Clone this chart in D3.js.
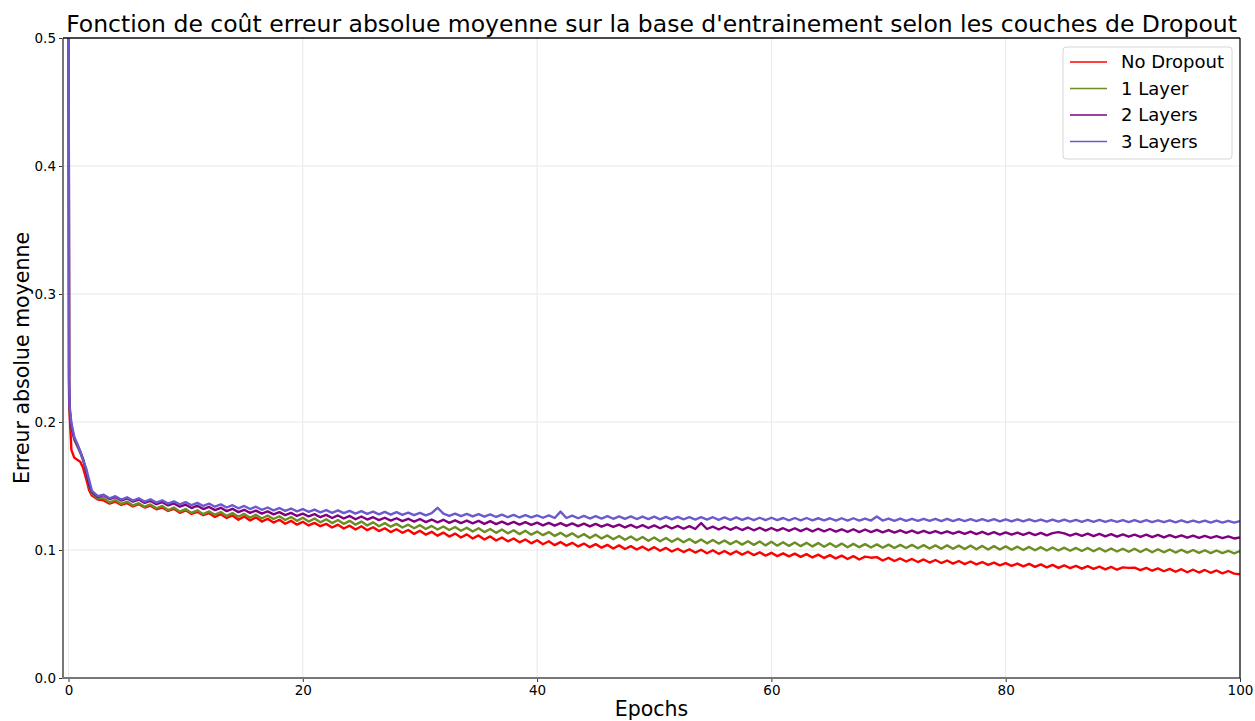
<!DOCTYPE html>
<html>
<head>
<meta charset="utf-8">
<script src="https://cdn.jsdelivr.net/npm/d3@7"></script>
<style>
  html, body { margin: 0; padding: 0; background: #fff; }
  svg { display: block; font-family: 'DejaVu Sans', sans-serif; }
</style>
</head>
<body>
<div id="app"></div>
<script>
const width = 1255;
const height = 721;

// epochs: dense sampling at the start, then every half epoch
const earlyEpochs = [0, 0.05, 0.1, 0.25, 0.5, 0.75, 1.0, 1.25, 1.5, 1.75];
const epochs = earlyEpochs.concat(d3.range(2, 100.001, 0.5));

const seriesNames = ['No Dropout', '1 Layer', '2 Layers', '3 Layers'];
const seriesColors = ['#ff0000', '#6b8e23', '#800080', '#6a5acd'];

const xTicks = [0, 20, 40, 60, 80, 100];
const yTicks = [0.0, 0.1, 0.2, 0.3, 0.4, 0.5];

// values, x 1e-4
const noDropout = [
  6200, 2200, 2050, 1780, 1720, 1705, 1690, 1640, 1560, 1470,
  1425, 1395, 1388, 1362, 1378, 1352, 1366, 1340, 1358, 1332,
  1346, 1318, 1332, 1305, 1322, 1290, 1310, 1282, 1298, 1272,
  1288, 1258, 1280, 1250, 1270, 1236, 1262, 1230, 1255, 1222,
  1244, 1214, 1236, 1205, 1228, 1198, 1220, 1192, 1212, 1186,
  1204, 1176, 1198, 1168, 1190, 1160, 1185, 1155, 1178, 1148,
  1170, 1140, 1162, 1134, 1156, 1126, 1150, 1120, 1142, 1112,
  1136, 1105, 1128, 1098, 1122, 1090, 1114, 1082, 1106, 1074,
  1098, 1068, 1090, 1060, 1082, 1052, 1076, 1045, 1068, 1038,
  1062, 1034, 1056, 1028, 1050, 1022, 1046, 1018, 1040, 1012,
  1036, 1008, 1030, 1004, 1026,  998, 1022,  994, 1016,  988,
  1010,  984, 1006,  980, 1002,  975,  998,  970,  992,  966,
   990,  964,  986,  960,  982,  956,  978,  952,  974,  950,
   972,  946,  968,  942,  964,  938,  960,  934,  956,  930,
   952,  926,  948,  940,  944,  918,  938,  914,  934,  910,
   930,  906,  926,  902,  922,  898,  918,  894,  914,  890,
   910,  888,  906,  884,  902,  880,  898,  876,  894,  872,
   892,  868,  888,  864,  884,  860,  880,  858,  876,  854,
   874,  852,  870,  848,  868,  846,  864,  860,  862,  842,
   860,  838,  856,  834,  852,  830,  850,  826,  846,  824,
   844,  822,  840,  818,  836,  815,  810
];

const oneLayer = [
  6200, 2250, 2080, 1950, 1860, 1810, 1760, 1700, 1610, 1500,
  1440, 1402, 1405, 1372, 1390, 1360, 1378, 1348, 1366, 1338,
  1356, 1326, 1344, 1312, 1332, 1300, 1320, 1290, 1310, 1280,
  1302, 1276, 1296, 1266, 1288, 1260, 1282, 1252, 1276, 1246,
  1270, 1242, 1264, 1234, 1258, 1228, 1252, 1222, 1246, 1216,
  1240, 1210, 1234, 1204, 1228, 1198, 1222, 1192, 1216, 1186,
  1210, 1182, 1204, 1176, 1198, 1170, 1194, 1164, 1188, 1160,
  1184, 1156, 1180, 1150, 1174, 1144, 1170, 1140, 1164, 1134,
  1160, 1130, 1154, 1124, 1150, 1120, 1144, 1116, 1140, 1110,
  1134, 1106, 1130, 1100, 1124, 1094, 1120, 1090, 1114, 1084,
  1110, 1080, 1106, 1076, 1102, 1072, 1098, 1068, 1094, 1064,
  1090, 1060, 1086, 1056, 1082, 1052, 1078, 1050, 1074, 1046,
  1070, 1042, 1068, 1040, 1066, 1036, 1064, 1034, 1060, 1032,
  1058, 1030, 1056, 1028, 1054, 1026, 1052, 1024, 1050, 1022,
  1048, 1022, 1046, 1020, 1044, 1018, 1042, 1016, 1040, 1016,
  1040, 1014, 1038, 1012, 1036, 1010, 1036, 1010, 1034, 1008,
  1034, 1006, 1032, 1004, 1030, 1004, 1028, 1002, 1026, 1000,
  1024,  998, 1022,  996, 1020,  996, 1018,  994, 1016,  992,
  1016,  990, 1014,  988, 1012,  988, 1010,  986, 1010,  984,
  1008,  982, 1006,  982, 1004,  980, 1002,  980, 1000,  978,
   998,  976,  996,  976,  994,  974,  992
];

const twoLayers = [
  6200, 2300, 2100, 1960, 1870, 1820, 1770, 1710, 1620, 1510,
  1452, 1414, 1428, 1398, 1414, 1386, 1404, 1378, 1394, 1368,
  1384, 1358, 1374, 1348, 1364, 1338, 1354, 1328, 1346, 1320,
  1336, 1312, 1330, 1304, 1322, 1296, 1314, 1290, 1308, 1284,
  1302, 1278, 1296, 1272, 1290, 1266, 1284, 1262, 1280, 1256,
  1274, 1250, 1270, 1246, 1266, 1240, 1262, 1238, 1256, 1234,
  1252, 1230, 1248, 1226, 1244, 1222, 1242, 1218, 1238, 1216,
  1236, 1212, 1232, 1210, 1230, 1208, 1228, 1204, 1226, 1202,
  1222, 1200, 1220, 1198, 1218, 1196, 1214, 1192, 1212, 1190,
  1210, 1188, 1208, 1186, 1206, 1184, 1204, 1182, 1200, 1180,
  1198, 1176, 1196, 1174, 1194, 1172, 1192, 1170, 1190, 1168,
  1188, 1166, 1186, 1164, 1210, 1164, 1182, 1160, 1180, 1158,
  1178, 1156, 1176, 1154, 1174, 1152, 1172, 1152, 1170, 1150,
  1170, 1148, 1168, 1146, 1166, 1146, 1164, 1144, 1162, 1142,
  1162, 1140, 1160, 1140, 1158, 1138, 1156, 1136, 1154, 1134,
  1152, 1132, 1150, 1132, 1148, 1130, 1146, 1128, 1144, 1126,
  1144, 1124, 1142, 1122, 1140, 1120, 1138, 1120, 1136, 1118,
  1136, 1116, 1134, 1114, 1132, 1140, 1130, 1112, 1128, 1110,
  1128, 1108, 1126, 1106, 1124, 1104, 1122, 1104, 1120, 1102,
  1120, 1100, 1118, 1098, 1116, 1098, 1114, 1096, 1112, 1094,
  1110, 1094, 1108, 1092, 1106, 1090, 1098
];

const threeLayers = [
  6200, 2350, 2120, 1990, 1880, 1830, 1770, 1700, 1640, 1550,
  1462, 1420, 1432, 1404, 1420, 1394, 1412, 1386, 1404, 1378,
  1396, 1370, 1388, 1362, 1380, 1356, 1374, 1350, 1368, 1344,
  1362, 1338, 1356, 1332, 1350, 1326, 1344, 1320, 1338, 1314,
  1332, 1310, 1328, 1306, 1324, 1302, 1320, 1298, 1316, 1294,
  1312, 1290, 1310, 1288, 1306, 1284, 1304, 1282, 1300, 1278,
  1298, 1276, 1296, 1274, 1292, 1272, 1290, 1270, 1288, 1330,
  1284, 1266, 1284, 1264, 1282, 1262, 1280, 1260, 1278, 1258,
  1276, 1256, 1274, 1254, 1272, 1254, 1270, 1252, 1270, 1250,
  1300, 1250, 1268, 1248, 1266, 1246, 1264, 1246, 1264, 1244,
  1262, 1244, 1262, 1242, 1260, 1242, 1260, 1240, 1258, 1240,
  1258, 1240, 1256, 1238, 1256, 1238, 1256, 1236, 1254, 1236,
  1254, 1236, 1252, 1234, 1252, 1234, 1252, 1234, 1250, 1232,
  1250, 1232, 1250, 1232, 1248, 1232, 1248, 1230, 1248, 1230,
  1248, 1230, 1246, 1230, 1262, 1230, 1246, 1228, 1246, 1228,
  1244, 1228, 1244, 1228, 1244, 1226, 1244, 1226, 1242, 1226,
  1242, 1226, 1242, 1226, 1242, 1224, 1240, 1224, 1240, 1224,
  1240, 1224, 1238, 1222, 1238, 1222, 1238, 1222, 1236, 1220,
  1236, 1220, 1236, 1220, 1234, 1220, 1234, 1218, 1234, 1218,
  1234, 1218, 1232, 1218, 1232, 1216, 1232, 1216, 1230, 1216,
  1230, 1214, 1230, 1214, 1228, 1214, 1226
];

const seriesValues = [noDropout, oneLayer, twoLayers, threeLayers];

const plot = { left: 63, right: 1240, top: 38, bottom: 678 };

const x = d3.scaleLinear().domain([-0.47, 100]).range([plot.left, plot.right]);
const y = d3.scaleLinear().domain([0, 0.5]).range([plot.bottom, plot.top]);

const svg = d3.select('#app').append('svg')
  .attr('width', width)
  .attr('height', height);

svg.append('defs').append('clipPath')
  .attr('id', 'plot-clip')
  .append('rect')
  .attr('x', plot.left)
  .attr('y', plot.top)
  .attr('width', plot.right - plot.left)
  .attr('height', plot.bottom - plot.top);

// grid
const grid = svg.append('g').attr('class', 'grid');
grid.selectAll('.gx')
  .data(xTicks)
  .enter().append('line')
  .attr('x1', d => x(d)).attr('x2', d => x(d))
  .attr('y1', plot.top).attr('y2', plot.bottom)
  .attr('stroke', '#e8e8e8').attr('stroke-width', 1);
grid.selectAll('.gy')
  .data(yTicks)
  .enter().append('line')
  .attr('x1', plot.left).attr('x2', plot.right)
  .attr('y1', d => y(d)).attr('y2', d => y(d))
  .attr('stroke', '#e8e8e8').attr('stroke-width', 1);

// lines
const line = d3.line()
  .x((_, i) => x(epochs[i]))
  .y(d => y(d / 10000));

svg.append('g')
  .attr('clip-path', 'url(#plot-clip)')
  .selectAll('path')
  .data(seriesValues)
  .enter().append('path')
  .attr('d', line)
  .attr('fill', 'none')
  .attr('stroke', (_, i) => seriesColors[i])
  .attr('stroke-width', 2.4)
  .attr('stroke-linejoin', 'round');

// axes
const xAxis = svg.append('g')
  .attr('transform', `translate(0,${plot.bottom})`)
  .call(d3.axisBottom(x).tickValues(xTicks).tickFormat(d3.format('d')).tickSize(4).tickPadding(3));
const yAxis = svg.append('g')
  .attr('transform', `translate(${plot.left},0)`)
  .call(d3.axisLeft(y).tickValues(yTicks).tickFormat(d3.format('.1f')).tickSize(4).tickPadding(3));

[xAxis, yAxis].forEach(ax => {
  ax.select('.domain').remove();
  ax.selectAll('.tick line').attr('stroke', '#333');
  ax.selectAll('.tick text')
    .attr('fill', '#000')
    .style('font-family', "'DejaVu Sans', sans-serif")
    .style('font-size', '13.5px');
});

// spines: left/bottom grey, top/right black
svg.append('line')
  .attr('x1', plot.left).attr('x2', plot.left)
  .attr('y1', plot.top).attr('y2', plot.bottom + 1)
  .attr('stroke', '#777').attr('stroke-width', 2);
svg.append('line')
  .attr('x1', plot.left).attr('x2', plot.right)
  .attr('y1', plot.bottom).attr('y2', plot.bottom)
  .attr('stroke', '#777').attr('stroke-width', 2);
svg.append('line')
  .attr('x1', plot.left).attr('x2', plot.right)
  .attr('y1', plot.top).attr('y2', plot.top)
  .attr('stroke', '#111').attr('stroke-width', 1.3);
svg.append('line')
  .attr('x1', plot.right).attr('x2', plot.right)
  .attr('y1', plot.top).attr('y2', plot.bottom)
  .attr('stroke', '#111').attr('stroke-width', 1.3);

// titles
const midX = (plot.left + plot.right) / 2;
svg.append('text')
  .attr('x', midX).attr('y', 32)
  .attr('text-anchor', 'middle')
  .style('font-size', '23.5px')
  .text("Fonction de coût erreur absolue moyenne sur la base d'entrainement selon les couches de Dropout");

svg.append('text')
  .attr('x', midX).attr('y', 716)
  .attr('text-anchor', 'middle')
  .style('font-size', '20.5px')
  .text('Epochs');

svg.append('text')
  .attr('transform', `translate(29,${(plot.top + plot.bottom) / 2}) rotate(-90)`)
  .attr('text-anchor', 'middle')
  .style('font-size', '20.5px')
  .text('Erreur absolue moyenne');

// legend
const legend = svg.append('g').attr('transform', 'translate(1063,47)');
legend.append('rect')
  .attr('width', 169).attr('height', 112)
  .attr('rx', 3)
  .attr('fill', '#fff').attr('fill-opacity', 0.85)
  .attr('stroke', '#d6d6d6');

const entry = legend.selectAll('.entry')
  .data(seriesNames)
  .enter().append('g')
  .attr('transform', (_, i) => `translate(0,${15 + i * 26.5})`);
entry.append('line')
  .attr('x1', 7).attr('x2', 44)
  .attr('stroke', (_, i) => seriesColors[i])
  .attr('stroke-width', 1.5);
entry.append('text')
  .attr('x', 58).attr('dy', '0.35em')
  .style('font-size', '18px')
  .text(d => d);
</script>
</body>
</html>
